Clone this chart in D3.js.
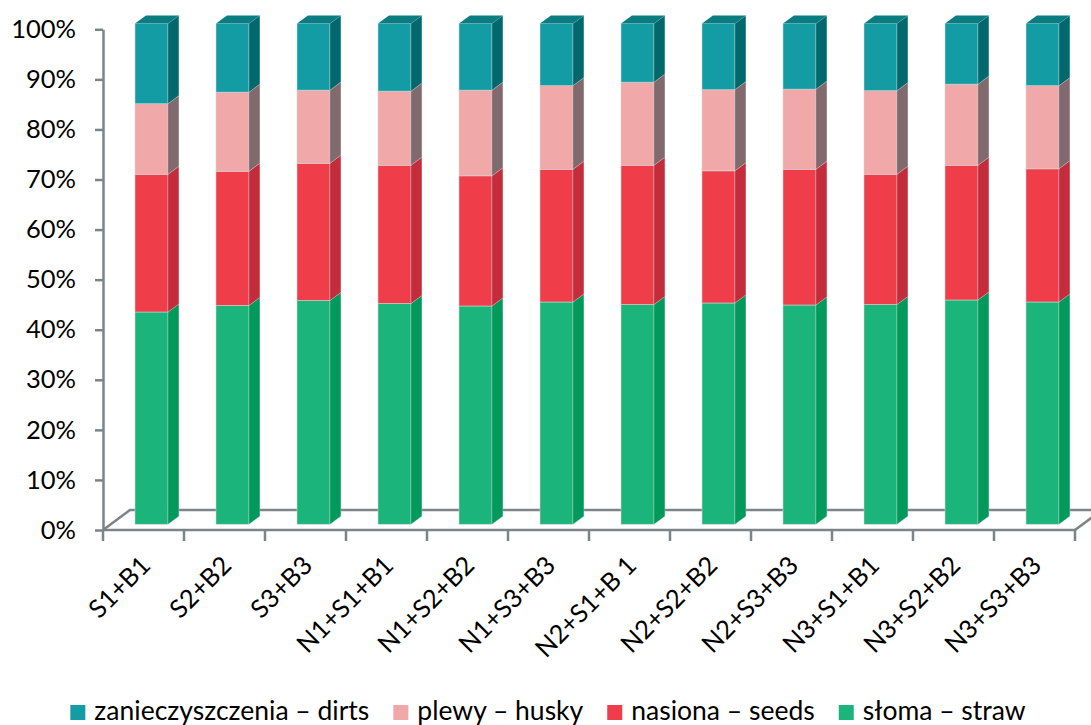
<!DOCTYPE html>
<html>
<head>
<meta charset="utf-8">
<script src="https://cdn.jsdelivr.net/npm/d3@7"></script>
<style>
  html, body { margin: 0; padding: 0; background: #fff; }
  svg { display: block; }
  text { font-family: Lato, "Open Sans", sans-serif; fill: #000; }
</style>
</head>
<body>
<svg id="chart" width="1091" height="725"></svg>
<script>
// Treatment combinations on the horizontal axis
const categories = ["S1+B1", "S2+B2", "S3+B3", "N1+S1+B1", "N1+S2+B2", "N1+S3+B3",
                    "N2+S1+B 1", "N2+S2+B2", "N2+S3+B3", "N3+S1+B1", "N3+S2+B2", "N3+S3+B3"];

// Share of each fraction in the harvested mass, percent (stacked bottom to top)
const straw = [42.4, 43.7, 44.7, 44.1, 43.6, 44.4, 43.9, 44.2, 43.8, 43.9, 44.8, 44.4];
const seeds = [27.5, 26.8, 27.4, 27.6, 26.0, 26.5, 27.8, 26.4, 27.1, 26.0, 26.9, 26.6];
const husky = [14.1, 15.8, 14.6, 14.8, 17.1, 16.7, 16.6, 16.2, 16.0, 16.7, 16.2, 16.6];
const dirts = [16.0, 13.7, 13.3, 13.5, 13.3, 12.4, 11.7, 13.2, 13.1, 13.4, 12.1, 12.4];

const seriesKeys = ["straw", "seeds", "husky", "dirts"];
const seriesLabels = {
  straw: "słoma – straw",
  seeds: "nasiona – seeds",
  husky: "plewy – husky",
  dirts: "zanieczyszczenia – dirts"
};
const legendOrder = ["dirts", "husky", "seeds", "straw"];

const yTicks = [0, 10, 20, 30, 40, 50, 60, 70, 80, 90, 100];

// face colours: front, side, top
const palette = {
  straw: { front: "#1bb57b", side: "#019a5c", top: "#0e9a62" },
  seeds: { front: "#ef3e4a", side: "#c42b3b", top: "#c42b3b" },
  husky: { front: "#f0a8a8", side: "#806a6e", top: "#b58a8c" },
  dirts: { front: "#149ca4", side: "#01686d", top: "#0a7d82" }
};

const table = categories.map((c, i) => ({
  cat: c, straw: straw[i], seeds: seeds[i], husky: husky[i], dirts: dirts[i]
}));

const svg = d3.select("#chart");
const axisColor = "#7d8487";

// floor geometry: front edge of the plot and the depth vector of the floor
const x = d3.scaleBand().domain(categories).range([103, 1075]).padding(0);
const y = d3.scaleLinear().domain([0, 100]).range([530, 29.3]);
const depth = { dx: 27, dy: -20 };
const frontFrac = 0.285, backFrac = 0.69;
const fx = depth.dx * frontFrac, fy = depth.dy * frontFrac;
const sx = depth.dx * (backFrac - frontFrac), sy = depth.dy * (backFrac - frontFrac);
const bw = x.bandwidth();
const barOffset = 0.3 * bw, barWidth = 0.407 * bw;

// floor outline
const floor = svg.append("g")
  .attr("fill", "none")
  .attr("stroke", axisColor)
  .attr("stroke-width", 2.5);
const [x0, x1] = x.range();
const y0 = y(0);
floor.append("path").attr("d", `M${x0},${y0}L${x0 + depth.dx},${y0 + depth.dy}H${x1 + depth.dx}`);
floor.append("path").attr("d", `M${x1},${y0}L${x1 + depth.dx},${y0 + depth.dy}`);
floor.append("path").attr("d", `M${x0},${y0}H${x1}`);

// category tick marks on the front edge
floor.selectAll("line.xt")
  .data(categories.map(c => x(c)).concat([x1]))
  .join("line")
  .attr("class", "xt")
  .attr("x1", d => d).attr("x2", d => d)
  .attr("y1", y0).attr("y2", y0 + 11);

// value axis
const yAxis = d3.axisLeft(y)
  .tickValues(yTicks)
  .tickFormat(d => d + "%")
  .tickSize(8)
  .tickSizeOuter(0)
  .tickPadding(19);
const gy = svg.append("g").attr("transform", `translate(${x0},0)`).call(yAxis);
gy.select(".domain").attr("stroke", axisColor).attr("stroke-width", 2.5);
gy.selectAll(".tick line").attr("stroke", axisColor).attr("stroke-width", 2.5);
gy.selectAll(".tick text").attr("font-size", 25.5).attr("font-family", "Lato, sans-serif").attr("fill", "#000");

// stacked 3D columns
const stacked = d3.stack().keys(seriesKeys)(table);
const barsG = svg.append("g");
table.forEach((row, i) => {
  const g = barsG.append("g");
  const left = x(row.cat) + barOffset + fx;
  const right = left + barWidth;
  stacked.forEach((layer, li) => {
    const key = layer.key;
    const [v0, v1] = layer[i];
    const yb = y(v0) + fy, yt = y(v1) + fy;
    g.append("rect")
      .attr("x", left).attr("y", yt)
      .attr("width", barWidth).attr("height", yb - yt)
      .attr("fill", palette[key].front)
      .attr("stroke", "#d6d6d6").attr("stroke-width", 0.8).attr("stroke-opacity", 0.7);
    g.append("path")
      .attr("d", `M${right},${yb}L${right + sx},${yb + sy}L${right + sx},${yt + sy}L${right},${yt}Z`)
      .attr("fill", palette[key].side)
      .attr("stroke", "#d6d6d6").attr("stroke-width", 0.6).attr("stroke-opacity", 0.5);
    if (li === stacked.length - 1) {
      g.append("path")
        .attr("d", `M${left},${yt}L${right},${yt}L${right + sx},${yt + sy}L${left + sx},${yt + sy}Z`)
        .attr("fill", palette[key].top);
    }
  });
});

// rotated category labels
svg.append("g").selectAll("text")
  .data(categories)
  .join("text")
  .attr("font-size", 25.5)
  .attr("text-anchor", "end")
  .attr("transform", d => `translate(${x(d) + bw / 2 + 8.5},567) rotate(-45)`)
  .text(d => d);

// legend, centred under the plot
const legend = svg.append("g");
const items = legend.selectAll("g").data(legendOrder).join("g");
items.append("rect")
  .attr("width", 15).attr("height", 15).attr("y", -15)
  .attr("fill", d => palette[d].front);
items.append("text")
  .attr("x", 24).attr("y", 0)
  .attr("font-size", 26.5)
  .text(d => seriesLabels[d]);
let cursor = 0;
items.each(function () {
  const w = d3.select(this).select("text").node().getComputedTextLength();
  d3.select(this).attr("transform", `translate(${cursor},0)`);
  cursor += 24 + w + 24;
});
const total = cursor - 24;
legend.attr("transform", `translate(${548 - total / 2},720)`);
</script>
</body>
</html>
